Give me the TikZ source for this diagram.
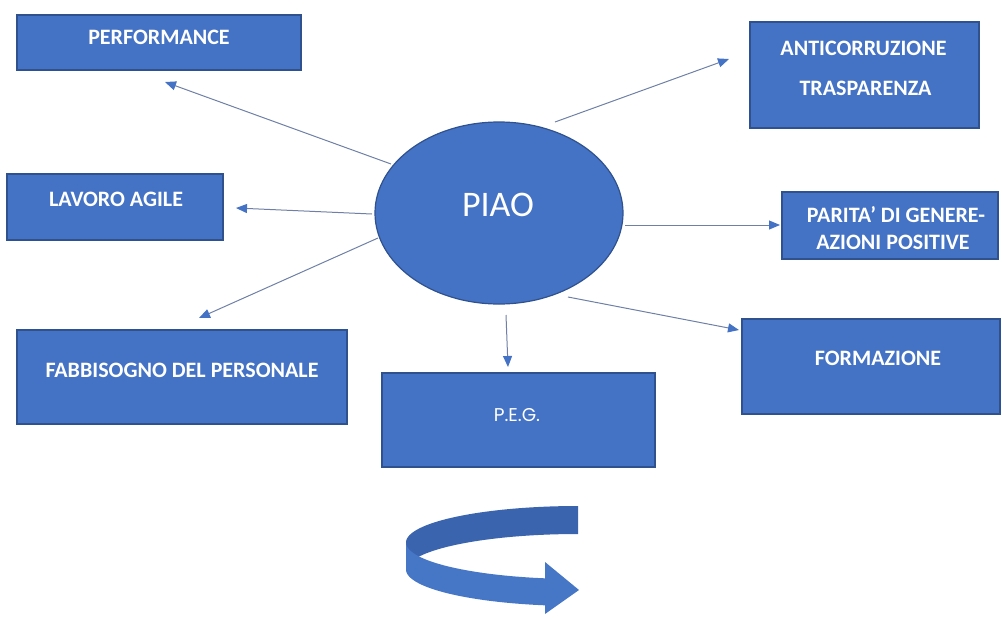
\documentclass[tikz,border=0pt]{standalone}
\usepackage{fontspec}
\setmainfont{Carlito}
\newfontfamily\pegfont{Poppins}
\usetikzlibrary{shapes.geometric,arrows.meta}
\definecolor{boxblue}{HTML}{4472C4}
\definecolor{edgeblue}{HTML}{2F528F}
\definecolor{linegray}{HTML}{6F80A6}
\definecolor{bandback}{HTML}{3A64AE}
\definecolor{bandfront}{HTML}{4676C6}
\begin{document}
\begin{tikzpicture}[x=1pt,y=-1pt,
  box/.style={draw=edgeblue,line width=1.2pt,fill=boxblue,rectangle,inner sep=0pt},
  lbl/.style={text=white,inner sep=0pt,font=\fontsize{22}{26}\selectfont\bfseries},
  conn/.style={draw=linegray,line width=1pt,-{Triangle[length=11pt,width=9pt,color=boxblue]}}
]
\useasboundingbox (0,0) rectangle (1002,619);

% boxes
\node[box,minimum width=284pt,minimum height=55pt] (perf) at (159,42.5) {};
\node[box,minimum width=229pt,minimum height=106pt] (anti) at (864.5,75) {};
\node[box,minimum width=216pt,minimum height=66pt] (lav) at (115,207) {};
\node[box,minimum width=216pt,minimum height=67pt] (par) at (890,225.5) {};
\node[box,minimum width=330pt,minimum height=94pt] (fab) at (182,377) {};
\node[box,minimum width=273pt,minimum height=94pt] (peg) at (518.5,420) {};
\node[box,minimum width=258pt,minimum height=95pt] (form) at (871,366.5) {};

% labels
\node[lbl] (perft) at (159,37) {PERFORMANCE};
\node[lbl] (antit1) at (863.5,48) {ANTICORRUZIONE};
\node[lbl] (antit2) at (865.5,88) {TRASPARENZA};
\node[lbl] (lavt) at (116,199) {LAVORO AGILE};
\node[lbl] (part1) at (896,215) {PARITA’ DI GENERE-};
\node[lbl] (part2) at (893,242) {AZIONI POSITIVE};
\node[lbl] (fabt) at (182,370) {FABBISOGNO DEL PERSONALE};
\node[text=white,inner sep=0pt,font=\pegfont\fontsize{18.5}{22}\selectfont] (pegt) at (517,415) {P.E.G.};
\node[lbl] (formt) at (878,358) {FORMAZIONE};

% central ellipse
\node[ellipse,draw=edgeblue,line width=1.2pt,fill=boxblue,minimum width=248pt,minimum height=182pt,inner sep=0pt] (piao) at (499,213) {};
\node[text=white,inner sep=0pt,font=\fontsize{36}{42}\selectfont] (piaot) at (498,205) {PIAO};

% connector end points
\coordinate (s1) at (391,164); \coordinate (e1) at (165,82);
\coordinate (s2) at (555,122); \coordinate (e2) at (729,59);
\coordinate (s3) at (372,214); \coordinate (e3) at (236,208);
\coordinate (s4) at (625,225); \coordinate (e4) at (780,225);
\coordinate (s5) at (378,238); \coordinate (e5) at (199,318);
\coordinate (s6) at (506,315); \coordinate (e6) at (508,367);
\coordinate (s7) at (568,297); \coordinate (e7) at (739,330);

\draw[conn] (s1) -- (e1);
\draw[conn] (s2) -- (e2);
\draw[conn] (s3) -- (e3);
\draw[conn] (s4) -- (e4);
\draw[conn] (s5) -- (e5);
\draw[conn] (s6) -- (e6);
\draw[conn] (s7) -- (e7);

% curved arrow
\fill[bandback] plot[domain=270:180,samples=40,variable=\t] ({578+172*cos(\t)},{542.5+36.5*sin(\t)})
  -- plot[domain=180:270,samples=40,variable=\t] ({578+172*cos(\t)},{570.5+36.5*sin(\t)}) -- cycle;
\fill[bandfront] plot[domain=180:101,samples=40,variable=\t] ({578+172*cos(\t)},{542.5+36.5*sin(\t)})
  -- (545,562) -- (579,590) -- (545,614)
  -- plot[domain=101:180,samples=40,variable=\t] ({578+172*cos(\t)},{569.5+36.5*sin(\t)}) -- cycle;
\end{tikzpicture}
\end{document}
